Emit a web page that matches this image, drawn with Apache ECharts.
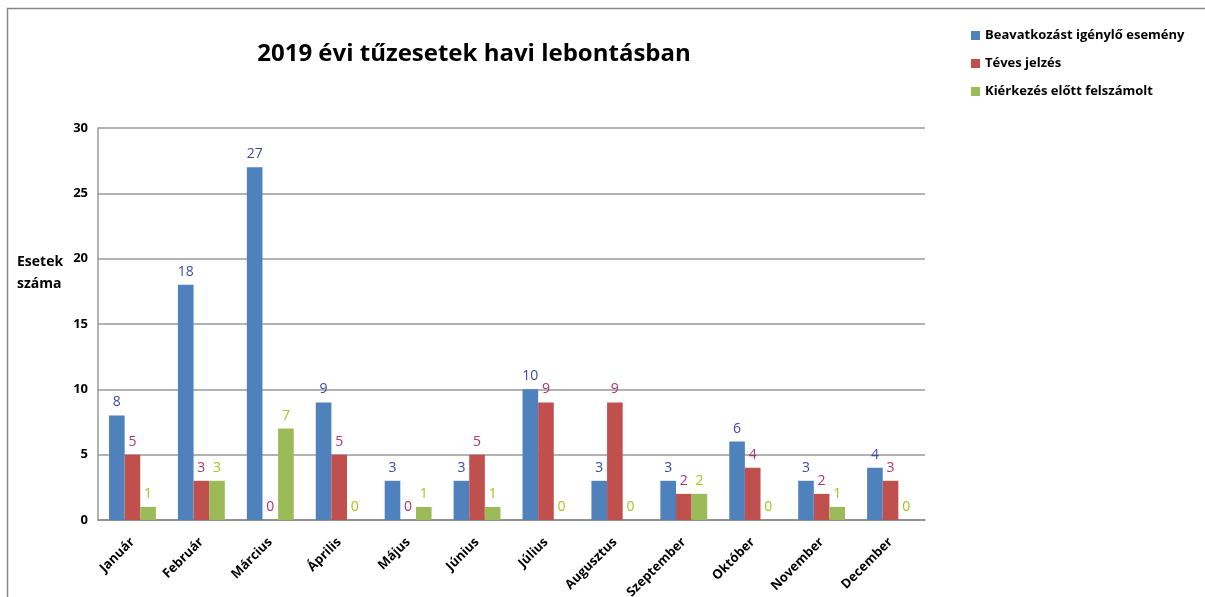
<!DOCTYPE html>
<html>
<head>
<meta charset="utf-8">
<script src="https://cdn.jsdelivr.net/npm/echarts@6/dist/echarts.min.js"></script>
<style>
    html, body { margin: 0; padding: 0; background: #fff; }
    #chart { width: 1205px; height: 597px; }
</style>
</head>
<body>
<div id="chart"></div>
<script>
var months = ['Január', 'Február', 'Március', 'Április', 'Május', 'Június', 'Július', 'Augusztus', 'Szeptember', 'Október', 'November', 'December'];
var seriesNames = ['Beavatkozást igénylő esemény', 'Téves jelzés', 'Kiérkezés előtt felszámolt'];
var beavatkozas = [8, 18, 27, 9, 3, 3, 10, 3, 3, 6, 3, 4];
var tevesJelzes = [5, 3, 0, 5, 0, 5, 9, 9, 2, 4, 2, 3];
var felszamolt = [1, 3, 7, 0, 1, 1, 0, 0, 2, 0, 1, 0];

var barColors = ['#4F81BD', '#C0504D', '#9BBB59'];
var labelColors = ['#3F48A8', '#A8386E', '#A4C520'];
var font = 'Open Sans, Liberation Sans, sans-serif';

function barSeries(i, data) {
    return {
        name: seriesNames[i],
        type: 'bar',
        data: data,
        barGap: 0,
        barCategoryGap: '32%',
        itemStyle: { color: barColors[i] },
        label: {
            show: true,
            position: 'top',
            distance: 6,
            color: labelColors[i],
            fontSize: 14,
            fontFamily: font
        }
    };
}

var myChart = echarts.init(document.getElementById('chart'));
var option = {
    animation: false,
    title: {
        text: '2019 évi tűzesetek havi lebontásban',
        left: 469,
        top: 37,
        textAlign: 'center',
        textStyle: { fontSize: 24, fontWeight: 'bold', color: '#000', fontFamily: font }
    },
    legend: {
        orient: 'vertical',
        left: 966,
        top: 24,
        itemWidth: 9,
        itemHeight: 9,
        itemGap: 15,
        icon: 'rect',
        textStyle: { fontSize: 13, fontWeight: 'bold', color: '#000', fontFamily: font }
    },
    graphic: [
        {
            type: 'rect',
            shape: { x: 7.5, y: 8.5, width: 1210, height: 600 },
            style: { fill: 'none', stroke: '#888', lineWidth: 1.5 }
        },
        {
            type: 'text',
            left: 17,
            top: 251,
            style: { text: 'Esetek\nszáma', font: 'bold 14px ' + font, fill: '#000', lineHeight: 22 }
        }
    ],
    grid: { left: 98, right: 280, top: 128, bottom: 77, outerBoundsMode: 'none' },
    xAxis: {
        type: 'category',
        data: months,
        axisLine: { lineStyle: { color: '#888', width: 1.5 } },
        axisTick: { show: false },
        axisLabel: {
            rotate: 45,
            interval: 0,
            margin: 20,
            fontSize: 13,
            fontWeight: 'bold',
            color: '#000',
            fontFamily: font
        }
    },
    yAxis: {
        type: 'value',
        min: 0,
        max: 30,
        interval: 5,
        axisLine: { show: true, lineStyle: { color: '#999', width: 1.5 } },
        axisTick: { show: false },
        splitLine: { lineStyle: { color: '#999', width: 1.5 } },
        axisLabel: { fontSize: 13, fontWeight: 'bold', color: '#000', margin: 10, fontFamily: font }
    },
    series: [
        barSeries(0, beavatkozas),
        barSeries(1, tevesJelzes),
        barSeries(2, felszamolt)
    ]
};

myChart.setOption(option);
</script>
</body>
</html>
